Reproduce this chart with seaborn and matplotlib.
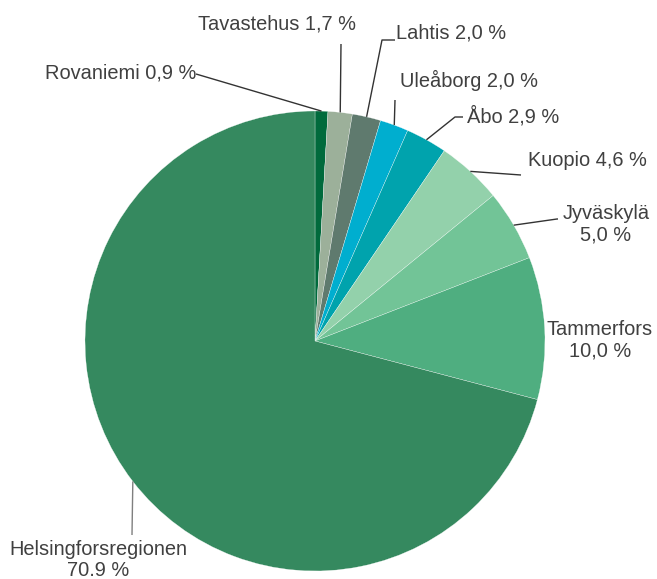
import matplotlib
matplotlib.use("Agg")
import matplotlib.pyplot as plt
import seaborn as sns
import numpy as np

# ---- data ----
regions = ["Rovaniemi", "Tavastehus", "Lahtis", "Uleåborg", "Åbo",
           "Kuopio", "Jyväskylä", "Tammerfors", "Helsingforsregionen"]
shares = [0.9, 1.7, 2.0, 2.0, 2.9, 4.6, 5.0, 10.0, 70.9]
share_texts = ["0,9 %", "1,7 %", "2,0 %", "2,0 %", "2,9 %",
               "4,6 %", "5,0 %", "10,0 %", "70.9 %"]
label_texts = ["Rovaniemi 0,9 %", "Tavastehus 1,7 %", "Lahtis 2,0 %",
               "Uleåborg 2,0 %", "Åbo 2,9 %", "Kuopio 4,6 %",
               "Jyväskylä\n5,0 %", "Tammerfors\n10,0 %",
               "Helsingforsregionen\n70.9 %"]
colors = ["#006A3C", "#9CB09A", "#5F7A6E", "#00AECF", "#00A3AD",
          "#93D1AB", "#72C497", "#4FAE80", "#35895F"]

# ---- layout (pixel coords, y from top) ----
W, H = 657, 579
cx, cy, R = 315, 341, 230
text_pos = [(196, 73, "right"), (277, 24, "center"), (396, 33, "left"),
            (400, 80, "left"), (467, 116, "left"), (528, 161, "left"),
            (606, 224, "center"), (600, 340, "center"), (98, 560, "center")]
leader_mid = [None, None, (382, 40), None, (455, 117), None, (557, 219), None, None]
leader_end = [(196, 74), (341, 44), (395, 40), (395, 100), (463, 117),
              (521, 175), (558, 219), None, (132, 535)]

sns.set_theme(style="white")
plt.rcParams["font.family"] = ["Liberation Sans", "DejaVu Sans"]

fig = plt.figure(figsize=(W / 100, H / 100), dpi=100)
ax = fig.add_axes([0, 0, 1, 1])
pal = sns.color_palette(colors)

ax.pie(shares, colors=pal, startangle=90, counterclock=False,
       center=(cx, H - cy), radius=R,
       wedgeprops=dict(linewidth=0.2, edgecolor="white"))
ax.set_xlim(0, W)
ax.set_ylim(0, H)
ax.set_aspect("equal")
ax.axis("off")

total = sum(shares)
cum = 0.0
txt_color = "#404040"
for i, v in enumerate(shares):
    mid = (cum + v / 2) / total * 360.0
    cum += v
    th = np.deg2rad(mid)
    wx = cx + R * np.sin(th)
    wy = cy - R * np.cos(th)
    tx, ty, ha = text_pos[i]
    ax.text(tx, H - ty, label_texts[i], ha=ha, va="center", fontsize=14.4,
            color=txt_color, linespacing=1.15)
    if leader_end[i] is not None:
        pts = [(wx, wy)]
        if leader_mid[i] is not None:
            pts.append(leader_mid[i])
        pts.append(leader_end[i])
        xs = [p[0] for p in pts]
        ys = [H - p[1] for p in pts]
        lc = "#7f7f7f" if i == 8 else "#333333"
        ax.plot(xs, ys, color=lc, lw=1.0, solid_capstyle="butt")

fig.savefig("out.png", dpi=100)
